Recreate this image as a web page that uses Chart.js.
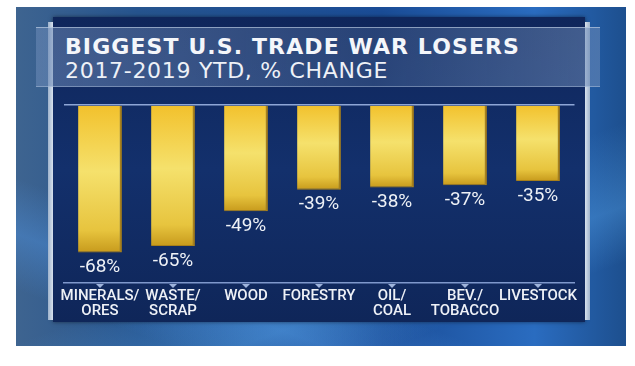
<!DOCTYPE html>
<html>
<head>
<meta charset="utf-8">
<script src="https://cdn.jsdelivr.net/npm/chart.js@4.4.1/dist/chart.umd.min.js"></script>
<style>
  html, body { margin: 0; padding: 0; background: #fff; }
  #stage { position: relative; width: 635px; height: 366px; overflow: hidden; }
  #studio {
    position: absolute; left: 16px; top: 7px; width: 610px; height: 339px;
    background:
      linear-gradient(160deg, rgba(255,255,255,0) 60%, rgba(90,170,240,0.35) 75%, rgba(255,255,255,0) 85%),
      linear-gradient(20deg, rgba(0,0,0,0) 10%, rgba(80,150,230,0.4) 20%, rgba(0,0,0,0) 30%),
      linear-gradient(90deg, #3e6490 0%, #26548e 20%, #1a4c96 60%, #2a6cc0 85%, #1d4f8e 100%);
  }
  #panel {
    position: absolute; left: 53px; top: 17px; width: 532px; height: 305px;
    background: linear-gradient(180deg, #0f265b 0%, #13306c 50%, #0f2659 100%);
    box-shadow: 0 0 4px rgba(0,0,0,0.5);
  }
  #edgeL { position: absolute; left: 48px; top: 22px; width: 5px; height: 298px; background: linear-gradient(90deg, #9fb3cc, #d8e2ee); }
  #edgeR { position: absolute; left: 585px; top: 22px; width: 5px; height: 298px; background: linear-gradient(90deg, #d8e2ee, #9fb3cc); }
  #band {
    position: absolute; left: 36px; top: 27px; width: 564px; height: 58px;
    background: linear-gradient(90deg, rgba(110,140,185,0.55), rgba(70,100,150,0.45) 60%, rgba(110,140,185,0.55));
    border-top: 1px solid rgba(200,215,235,0.6);
    border-bottom: 1px solid rgba(200,215,235,0.4);
  }
  #title {
    position: absolute; left: 65px; top: 34px; color: #f4f6fa;
    font-family: "DejaVu Sans", sans-serif; font-weight: 700; font-size: 22px; line-height: 26px;
    letter-spacing: 1.1px; white-space: nowrap;
  }
  #subtitle {
    position: absolute; left: 65px; top: 58px; color: #eef1f7;
    font-family: "DejaVu Sans", sans-serif; font-weight: 400; font-size: 22px; line-height: 26px;
    letter-spacing: 0.7px; white-space: nowrap;
  }
  canvas { position: absolute; left: 0; top: 0; }
</style>
</head>
<body>
<div id="stage">
  <div id="studio"></div>
  <div id="panel"></div>
  <div id="edgeL"></div>
  <div id="edgeR"></div>
  <div id="band"></div>
  <div id="title">BIGGEST U.S. TRADE WAR LOSERS</div>
  <div id="subtitle">2017-2019 YTD, % CHANGE</div>
  <canvas id="chart" width="635" height="366"></canvas>
</div>
<script>
var categories = [
  ['MINERALS/', 'ORES'],
  ['WASTE/', 'SCRAP'],
  'WOOD',
  'FORESTRY',
  ['OIL/', 'COAL'],
  ['BEV./', 'TOBACCO'],
  'LIVESTOCK'
];
var changes = [-68, -65, -49, -39, -38, -37, -35];

// bar fill: orange-yellow at top, pale in the middle, darker gold at the end
function barFill(context) {
  var chart = context.chart;
  var y = chart.scales.y;
  if (!y || !chart.chartArea) return '#f0c830';
  var y0 = y.getPixelForValue(0);
  var y1 = y.getPixelForValue(changes[context.dataIndex]);
  if (!isFinite(y0) || !isFinite(y1)) return '#f0c830';
  var g = chart.ctx.createLinearGradient(0, y0, 0, y1);
  g.addColorStop(0, '#f2c12c');
  g.addColorStop(0.45, '#f5e16c');
  g.addColorStop(0.85, '#e7c43e');
  g.addColorStop(1, '#c79a1c');
  return g;
}

var valueLabels = {
  id: 'valueLabels',
  afterDatasetsDraw: function(chart) {
    var ctx = chart.ctx;
    var meta = chart.getDatasetMeta(0);
    ctx.save();
    ctx.font = '400 19px Roboto, sans-serif';
    ctx.fillStyle = '#eef1f6';
    ctx.textAlign = 'center';
    ctx.textBaseline = 'middle';
    meta.data.forEach(function(bar, i) {
      ctx.fillText(changes[i] + '%', bar.x, bar.y + 15);
    });
    ctx.restore();
  }
};

// little downward pointers under the axis line
var axisPointers = {
  id: 'axisPointers',
  afterDraw: function(chart) {
    var ctx = chart.ctx;
    var x = chart.scales.x;
    var base = chart.chartArea.bottom;
    ctx.save();
    ctx.fillStyle = '#9fb4dc';
    for (var i = 0; i < categories.length; i++) {
      var px = x.getPixelForValue(i);
      ctx.beginPath();
      ctx.moveTo(px - 4, base + 1);
      ctx.lineTo(px + 4, base + 1);
      ctx.lineTo(px, base + 5);
      ctx.closePath();
      ctx.fill();
    }
    ctx.restore();
  }
};

new Chart(document.getElementById('chart'), {
  type: 'bar',
  data: {
    labels: categories,
    datasets: [{
      data: changes,
      backgroundColor: barFill,
      borderColor: '#a8801a',
      borderWidth: { right: 2, left: 0, top: 0, bottom: 1 },
      borderSkipped: false,
      barPercentage: 0.6,
      categoryPercentage: 1
    }]
  },
  options: {
    responsive: false,
    animation: false,
    layout: { padding: { left: 63.5, right: 60.5, top: 105, bottom: 0 } },
    plugins: { legend: { display: false }, tooltip: { enabled: false } },
    scales: {
      x: {
        grid: { display: false, drawTicks: false, tickLength: 0 },
        border: { display: true, color: '#7f98cc', width: 1.5 },
        ticks: {
          color: '#eef1f7',
          font: { family: 'Roboto', size: 15, weight: '500', lineHeight: 1.05 },
          padding: 5,
          maxRotation: 0,
          autoSkip: false
        },
        // axis line sits at y = 283
        afterFit: function(scale) { scale.height = 83; }
      },
      y: {
        min: -82,
        max: 0,
        ticks: { display: false },
        border: { display: false },
        grid: {
          drawTicks: false,
          lineWidth: 1.5,
          color: function(c) { return c.tick.value === 0 ? '#8ea6d6' : 'rgba(0,0,0,0)'; }
        }
      }
    }
  },
  plugins: [valueLabels, axisPointers]
});
</script>
</body>
</html>
